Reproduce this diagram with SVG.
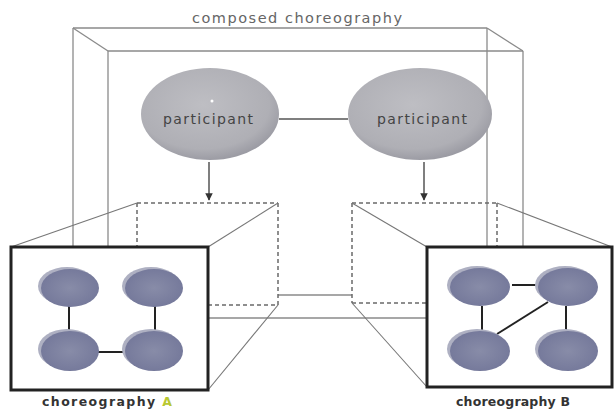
<svg xmlns="http://www.w3.org/2000/svg" width="614" height="409" viewBox="0 0 614 409">
  <style>
    .frame { stroke: #8a8a8a; stroke-width: 1.3; fill: none; }
    .dash { stroke: #6a6a6a; stroke-width: 1.5; fill: none; stroke-dasharray: 4 3; }
    .diag { stroke: #777; stroke-width: 1.1; fill: none; }
    .box { stroke: #222; stroke-width: 3; fill: #fff; }
    .link { stroke: #222; stroke-width: 2; fill: none; }
    .plink { stroke: #555; stroke-width: 1.3; fill: none; }
    .arrow { stroke: #555; stroke-width: 1.5; fill: none; }
    .disc { fill: url(#discGrad); }
    .rim { fill: #aeb0c2; }
    .part { fill: url(#partGrad); }
    .ptxt { font-family: "DejaVu Sans", "Liberation Sans", sans-serif; font-size: 14px; fill: #444; text-anchor: middle; }
    .title { font-family: "DejaVu Sans", "Liberation Sans", sans-serif; font-size: 14.5px; fill: #666; text-anchor: middle; }
    .lbl { font-family: "DejaVu Sans", "Liberation Sans", sans-serif; font-size: 12.5px; font-weight: bold; fill: #333; }
  </style>
  <defs>
    <radialGradient id="partGrad" cx="0.45" cy="0.4" r="0.6">
      <stop offset="0" stop-color="#bebec3"/>
      <stop offset="0.8" stop-color="#afafb5"/>
      <stop offset="1" stop-color="#9c9ca4"/>
    </radialGradient>
    <radialGradient id="discGrad" cx="0.5" cy="0.5" r="0.55">
      <stop offset="0" stop-color="#888ca8"/>
      <stop offset="1" stop-color="#74789a"/>
    </radialGradient>
    <marker id="ah" viewBox="0 0 10 10" refX="9" refY="5" markerWidth="5" markerHeight="5" orient="auto">
      <path d="M0,0 L10,5 L0,10 z" fill="#333"/>
    </marker>
  </defs>

  <text class="title" x="297" y="23" textLength="210" lengthAdjust="spacing">composed choreography</text>

  <g id="composed-frame">
    <line class="frame" x1="73" y1="28" x2="487" y2="28"/>
    <line class="frame" x1="73" y1="28" x2="73" y2="247"/>
    <line class="frame" x1="487" y1="28" x2="487" y2="247"/>
    <line class="frame" x1="278" y1="295" x2="352" y2="295"/>
    <line class="frame" x1="108" y1="51" x2="523" y2="51"/>
    <line class="frame" x1="108" y1="51" x2="108" y2="247"/>
    <line class="frame" x1="523" y1="51" x2="523" y2="247"/>
    <line class="frame" x1="208" y1="318" x2="427" y2="318"/>
    <line class="frame" x1="73" y1="28" x2="108" y2="51"/>
    <line class="frame" x1="487" y1="28" x2="523" y2="51"/>
  </g>

  <g id="connectors">
    <line class="plink" x1="279" y1="119" x2="348" y2="119"/>
    <line class="arrow" x1="209" y1="162" x2="209" y2="200" marker-end="url(#ah)"/>
    <line class="arrow" x1="424" y1="162" x2="424" y2="200" marker-end="url(#ah)"/>
  </g>

  <g id="participant-left">
    <ellipse class="part" cx="210" cy="114" rx="69" ry="46"/>
    <circle cx="212" cy="101" r="1.5" fill="#fff"/>
    <text class="ptxt" x="208" y="124" textLength="90" lengthAdjust="spacing">participant</text>
  </g>
  <g id="participant-right">
    <ellipse class="part" cx="420" cy="114" rx="72" ry="46"/>
    <text class="ptxt" x="422" y="124" textLength="90" lengthAdjust="spacing">participant</text>
  </g>

  <g id="choreography-A">
    <line class="dash" x1="137" y1="203" x2="278" y2="203"/>
    <line class="dash" x1="278" y1="203" x2="278" y2="305"/>
    <line class="dash" x1="208" y1="305" x2="278" y2="305"/>
    <line class="dash" x1="137" y1="203" x2="137" y2="247"/>
    <line class="diag" x1="11" y1="247" x2="137" y2="203"/>
    <line class="diag" x1="208" y1="247" x2="278" y2="203"/>
    <line class="diag" x1="208" y1="390" x2="278" y2="305"/>
    <rect class="box" x="11" y="247" width="197" height="143"/>
    <line class="link" x1="69" y1="306" x2="69" y2="332"/>
    <line class="link" x1="155" y1="306" x2="155" y2="332"/>
    <line class="link" x1="98" y1="352" x2="124" y2="352"/>
    <ellipse class="rim" cx="67" cy="286" rx="29" ry="19"/>
    <ellipse class="disc" cx="70" cy="288" rx="29" ry="19"/>
    <ellipse class="rim" cx="151" cy="286" rx="29" ry="19"/>
    <ellipse class="disc" cx="154" cy="288" rx="29" ry="19"/>
    <ellipse class="rim" cx="67" cy="349" rx="29" ry="20"/>
    <ellipse class="disc" cx="70" cy="351" rx="29" ry="20"/>
    <ellipse class="rim" cx="151" cy="349" rx="29" ry="20"/>
    <ellipse class="disc" cx="154" cy="351" rx="29" ry="20"/>
    <text class="lbl" x="42" y="406" textLength="130" lengthAdjust="spacing">choreography <tspan fill="#b8c832">A</tspan></text>
  </g>

  <g id="choreography-B">
    <line class="dash" x1="352" y1="203" x2="497" y2="203"/>
    <line class="dash" x1="352" y1="203" x2="352" y2="303"/>
    <line class="dash" x1="352" y1="303" x2="427" y2="303"/>
    <line class="dash" x1="497" y1="203" x2="497" y2="247"/>
    <line class="diag" x1="352" y1="203" x2="427" y2="247"/>
    <line class="diag" x1="497" y1="203" x2="612" y2="247"/>
    <line class="diag" x1="352" y1="303" x2="427" y2="387"/>
    <rect class="box" x="427" y="247" width="185" height="140"/>
    <line class="link" x1="512" y1="285" x2="538" y2="285"/>
    <line class="link" x1="482" y1="306" x2="482" y2="332"/>
    <line class="link" x1="566" y1="306" x2="566" y2="332"/>
    <line class="link" x1="497" y1="334" x2="548" y2="302"/>
    <ellipse class="rim" cx="477" cy="285" rx="30" ry="19"/>
    <ellipse class="disc" cx="480" cy="287" rx="30" ry="19"/>
    <ellipse class="rim" cx="565" cy="285" rx="30" ry="19"/>
    <ellipse class="disc" cx="568" cy="287" rx="30" ry="19"/>
    <ellipse class="rim" cx="477" cy="349" rx="30" ry="20"/>
    <ellipse class="disc" cx="480" cy="351" rx="30" ry="20"/>
    <ellipse class="rim" cx="565" cy="349" rx="30" ry="20"/>
    <ellipse class="disc" cx="568" cy="351" rx="30" ry="20"/>
    <text class="lbl" x="456" y="406" textLength="114" lengthAdjust="spacing">choreography B</text>
  </g>
</svg>
